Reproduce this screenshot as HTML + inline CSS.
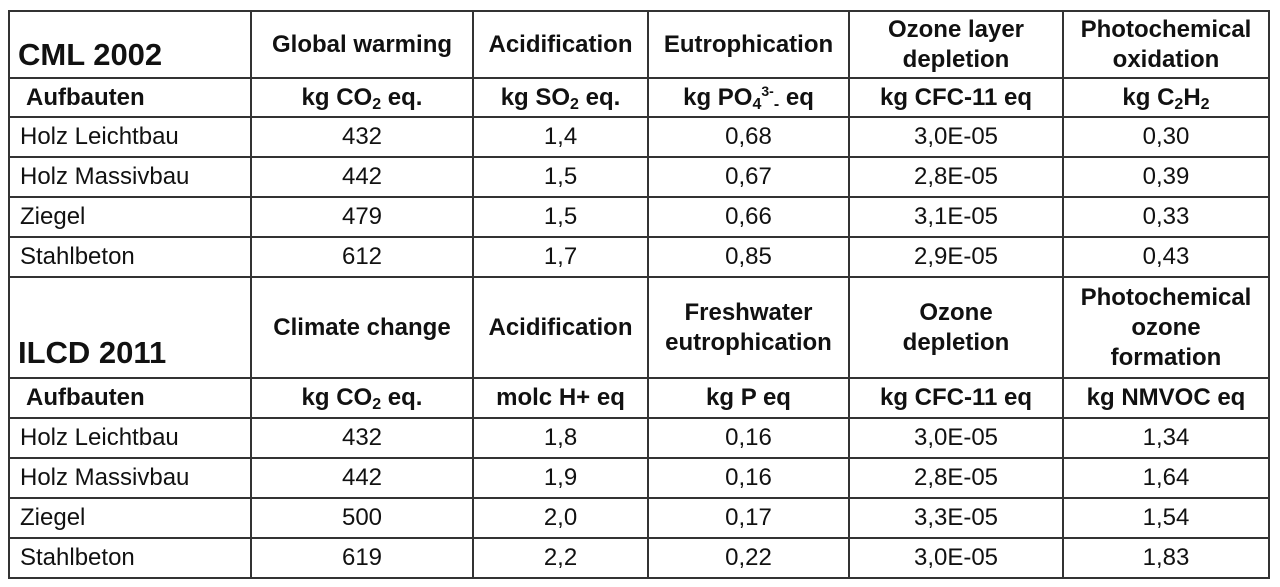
<!DOCTYPE html>
<html><head><meta charset="utf-8"><style>
html,body{margin:0;padding:0;background:#fff;width:1280px;height:587px;overflow:hidden}
table{position:absolute;left:8px;top:10px;border-collapse:collapse;table-layout:fixed;font-family:"Liberation Sans",sans-serif;color:#111}
td{border:2px solid #333;padding:0;text-align:center;font-size:24px;overflow:hidden;white-space:nowrap}
td.h{font-weight:bold;line-height:30px;font-size:24px}
td.l{text-align:left;padding-left:10px}
td.t{font-weight:bold;font-size:31px;text-align:left;padding-left:8px}
td.a{font-weight:bold;text-align:left;padding-left:16px}
sub{font-size:16px;vertical-align:-4px;line-height:0}
sup{font-size:14px;vertical-align:9px;line-height:0}
</style></head><body>
<table>
<colgroup><col style="width:242px"><col style="width:222px"><col style="width:175px"><col style="width:201px"><col style="width:214px"><col style="width:206px"></colgroup>
<tr style="height:67px"><td class="t" style="vertical-align:bottom;padding-bottom:4px">CML 2002</td><td class="h">Global warming</td><td class="h">Acidification</td><td class="h">Eutrophication</td><td class="h">Ozone layer<br>depletion</td><td class="h">Photochemical<br>oxidation</td></tr>
<tr style="height:39px"><td class="a">Aufbauten</td><td class="h">kg CO<sub>2</sub> eq.</td><td class="h">kg SO<sub>2</sub> eq.</td><td class="h">kg PO<sub>4</sub><sup>3-</sup><sub>-</sub> eq</td><td class="h">kg CFC-11 eq</td><td class="h">kg C<sub>2</sub>H<sub>2</sub></td></tr>
<tr style="height:40px"><td class="l">Holz Leichtbau</td><td>432</td><td>1,4</td><td>0,68</td><td>3,0E-05</td><td>0,30</td></tr>
<tr style="height:40px"><td class="l">Holz Massivbau</td><td>442</td><td>1,5</td><td>0,67</td><td>2,8E-05</td><td>0,39</td></tr>
<tr style="height:40px"><td class="l">Ziegel</td><td>479</td><td>1,5</td><td>0,66</td><td>3,1E-05</td><td>0,33</td></tr>
<tr style="height:40px"><td class="l">Stahlbeton</td><td>612</td><td>1,7</td><td>0,85</td><td>2,9E-05</td><td>0,43</td></tr>
<tr style="height:101px"><td class="t" style="vertical-align:bottom;padding-bottom:6px">ILCD 2011</td><td class="h">Climate change</td><td class="h">Acidification</td><td class="h">Freshwater<br>eutrophication</td><td class="h">Ozone<br>depletion</td><td class="h">Photochemical<br>ozone<br>formation</td></tr>
<tr style="height:40px"><td class="a">Aufbauten</td><td class="h">kg CO<sub>2</sub> eq.</td><td class="h">molc H+ eq</td><td class="h">kg P eq</td><td class="h">kg CFC-11 eq</td><td class="h">kg NMVOC eq</td></tr>
<tr style="height:40px"><td class="l">Holz Leichtbau</td><td>432</td><td>1,8</td><td>0,16</td><td>3,0E-05</td><td>1,34</td></tr>
<tr style="height:40px"><td class="l">Holz Massivbau</td><td>442</td><td>1,9</td><td>0,16</td><td>2,8E-05</td><td>1,64</td></tr>
<tr style="height:40px"><td class="l">Ziegel</td><td>500</td><td>2,0</td><td>0,17</td><td>3,3E-05</td><td>1,54</td></tr>
<tr style="height:40px"><td class="l">Stahlbeton</td><td>619</td><td>2,2</td><td>0,22</td><td>3,0E-05</td><td>1,83</td></tr>
</table>
</body></html>
